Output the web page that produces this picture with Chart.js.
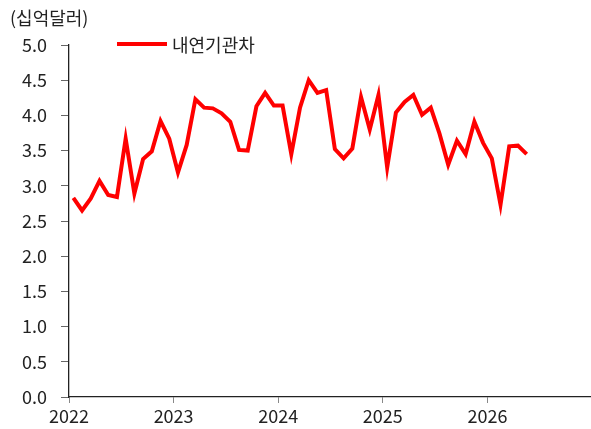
<!DOCTYPE html>
<html>
<head>
<meta charset="utf-8">
<script src="https://cdn.jsdelivr.net/npm/chart.js@4"></script>
<style>
  body { margin: 0; background: #fff; font-family: "Noto Sans CJK KR", "Noto Sans", sans-serif; }
  #wrap { position: relative; width: 591px; height: 429px; }
  .unit { position: absolute; left: 10px; top: 4px; font-size: 18px; color: #222; }
  .legend { position: absolute; left: 117px; top: 31px; font-size: 18px; color: #222; display: flex; align-items: center; }
  .legend span.swatch { display: inline-block; width: 50px; height: 4px; background: #ff0000; margin-right: 5px; }
</style>
</head>
<body>
<div id="wrap">
  <canvas id="chart" width="591" height="429"></canvas>
  <div class="unit">(십억달러)</div>
  <div class="legend"><span class="swatch"></span>내연기관차</div>
</div>
<script>
// 월별 값 (2022.01 ~ 2026.05)
const startYear = 2022;
const values = [
    2.83, 2.65, 2.82, 3.07, 2.87, 2.84, 3.67, 2.89, 3.38, 3.49, 3.92, 3.67,
    3.19, 3.58, 4.23, 4.11, 4.10, 4.03, 3.91, 3.51, 3.50, 4.13, 4.32, 4.14,
    4.14, 3.45, 4.11, 4.50, 4.32, 4.36, 3.52, 3.39, 3.53, 4.26, 3.80, 4.29,
    3.26, 4.04, 4.19, 4.29, 4.01, 4.11, 3.74, 3.30, 3.64, 3.45, 3.91, 3.61,
    3.39, 2.73, 3.56, 3.57, 3.45
];
const yearTicks = [2022, 2023, 2024, 2025, 2026];
const yTicks = [0, 0.5, 1, 1.5, 2, 2.5, 3, 3.5, 4, 4.5, 5];

// 월 중앙 위치로 x값 계산
const points = values.map((v, i) => ({ x: startYear + (i + 0.5) / 12, y: v }));

const font = { family: '"Noto Sans CJK KR", "Noto Sans", sans-serif', size: 18 };

new Chart(document.getElementById('chart'), {
    type: 'line',
    data: {
        datasets: [{
            label: '내연기관차',
            data: points,
            borderColor: '#ff0000',
            borderWidth: 4,
            pointRadius: 0,
            tension: 0,
            fill: false
        }]
    },
    options: {
        responsive: false,
        animation: false,
        layout: { padding: { top: 45, right: 0, left: 0, bottom: 0 } },
        plugins: { legend: { display: false }, tooltip: { enabled: false } },
        scales: {
            x: {
                type: 'linear',
                min: 2022,
                max: 2026.99,
                afterBuildTicks: s => { s.ticks = yearTicks.map(v => ({ value: v })); },
                afterFit: s => { s.height = 32; },
                ticks: {
                    color: '#222',
                    font: font,
                    padding: 2,
                    maxRotation: 0,
                    callback: v => String(v)
                },
                grid: { drawOnChartArea: false, tickLength: 6, tickColor: '#888' },
                border: { color: '#222', width: 1.3 }
            },
            y: {
                min: 0,
                max: 5,
                afterBuildTicks: s => { s.ticks = yTicks.map(v => ({ value: v })); },
                afterFit: s => { s.width = 69; },
                ticks: {
                    color: '#222',
                    font: font,
                    padding: 14,
                    callback: v => Number(v).toFixed(1)
                },
                grid: { drawOnChartArea: false, tickLength: 8, tickColor: '#666' },
                border: { color: '#222', width: 1.3 }
            }
        }
    }
});
</script>
</body>
</html>
